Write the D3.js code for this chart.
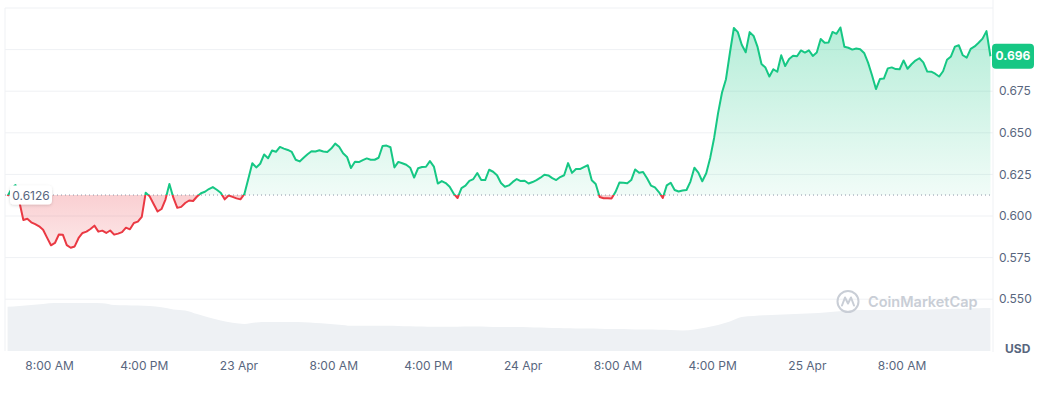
<!DOCTYPE html>
<html><head><meta charset="utf-8">
<script src="https://cdn.jsdelivr.net/npm/d3@7"></script>
<style>
html,body{margin:0;padding:0;background:#fff;}
svg{display:block;font-family:Inter,"Noto Sans",sans-serif;}
</style></head><body>
<svg id="chart" width="1039" height="394"></svg>
<script>
// ---- DATA ----
const priceStart = "2024-04-22T04:30:00";
const priceStepMinutes = 20;
const prices = [
0.6120,0.6162,0.6186,0.6084,0.5976,0.5983,0.5962,0.5951,0.5938,0.5917,
0.5870,0.5824,0.5838,0.5889,0.5888,0.5825,0.5809,0.5817,0.5868,0.5898,
0.5906,0.5922,0.5942,0.5906,0.5912,0.5898,0.5913,0.5888,0.5894,0.5903,
0.5930,0.5920,0.5958,0.5966,0.5995,0.6140,0.6118,0.6072,0.6027,0.6042,
0.6099,0.6192,0.6110,0.6049,0.6055,0.6078,0.6093,0.6090,0.6117,0.6137,
0.6146,0.6162,0.6174,0.6158,0.6140,0.6100,0.6123,0.6115,0.6106,0.6100,
0.6132,0.6224,0.6317,0.6292,0.6314,0.6370,0.6347,0.6394,0.6386,0.6415,
0.6405,0.6397,0.6385,0.6338,0.6328,0.6350,0.6371,0.6389,0.6388,0.6395,
0.6388,0.6385,0.6405,0.6435,0.6416,0.6377,0.6355,0.6288,0.6326,0.6324,
0.6336,0.6346,0.6338,0.6338,0.6350,0.6421,0.6423,0.6413,0.6292,0.6325,
0.6317,0.6308,0.6290,0.6231,0.6287,0.6294,0.6296,0.6330,0.6297,0.6195,
0.6210,0.6198,0.6176,0.6135,0.6108,0.6168,0.6182,0.6211,0.6222,0.6258,
0.6217,0.6216,0.6278,0.6266,0.6245,0.6198,0.6176,0.6184,0.6205,0.6222,
0.6210,0.6212,0.6195,0.6204,0.6216,0.6230,0.6248,0.6244,0.6228,0.6216,
0.6234,0.6245,0.6318,0.6259,0.6282,0.6282,0.6294,0.6305,0.6215,0.6192,
0.6114,0.6107,0.6107,0.6105,0.6144,0.6201,0.6200,0.6197,0.6216,0.6280,
0.6260,0.6264,0.6227,0.6183,0.6172,0.6144,0.6108,0.6184,0.6200,0.6156,
0.6147,0.6153,0.6156,0.6207,0.6290,0.6261,0.6209,0.6257,0.6349,0.6469,
0.6618,0.6742,0.6822,0.6981,0.7130,0.7105,0.7029,0.6984,0.7105,0.7082,
0.7016,0.6913,0.6892,0.6838,0.6882,0.6867,0.6966,0.6901,0.6944,0.6963,
0.6960,0.6995,0.6982,0.6996,0.6962,0.6982,0.7064,0.7041,0.7043,0.7106,
0.7095,0.7133,0.7017,0.7011,0.7000,0.7007,0.7002,0.6980,0.6922,0.6846,
0.6763,0.6823,0.6826,0.6887,0.6893,0.6883,0.6882,0.6935,0.6885,0.6912,
0.6934,0.6948,0.6923,0.6868,0.6867,0.6855,0.6838,0.6870,0.6939,0.6959,
0.7018,0.7026,0.6966,0.6952,0.7004,0.7019,0.7041,0.7066,0.7111,0.6960
];
const openPrice = 0.6126;

const volumeStart = "2024-04-22T04:30:00";
const volumeStepMinutes = 60;
const volumes = [
442,450,459,470,479,480,480,480,477,460,457,454,450,438,416,406,370,335,306,283,
271,286,290,290,290,288,280,273,263,253,253,253,252,250,247,244,242,242,243,244,
245,240,240,240,238,234,230,228,226,224,222,220,220,216,214,212,210,206,215,235,
260,295,340,350,358,363,368,373,378,385,395,405,410,410,410,410,410,410,415,420,
423,426,428,430
];

const gridValues = [0.550,0.575,0.600,0.625,0.650,0.675,0.700,0.725];
const yTickValues = [0.550,0.575,0.600,0.625,0.650,0.675];
const xTickTimes = ["2024-04-22T08:00","2024-04-22T16:00","2024-04-23T00:00","2024-04-23T08:00",
  "2024-04-23T16:00","2024-04-24T00:00","2024-04-24T08:00","2024-04-24T16:00",
  "2024-04-25T00:00","2024-04-25T08:00"];
const xTickLabels = ["8:00 AM","4:00 PM","23 Apr","8:00 AM","4:00 PM","24 Apr","8:00 AM","4:00 PM","25 Apr","8:00 AM"];
const domainStart = "2024-04-22T04:17";
const domainEnd = "2024-04-25T15:43";
const currency = "USD";
const brand = "CoinMarketCap";

// ---- BUILD ----
const GREEN = "#16c784", RED = "#ea3943", TXT = "#58667e", GRID = "#eff1f4";
const left = 5, right = 993;
const svg = d3.select("#chart");

const t0 = new Date(priceStart).getTime();
const priceData = prices.map((p, i) => ({t: new Date(t0 + i * priceStepMinutes * 60000), v: p}));
const v0 = new Date(volumeStart).getTime();
const volData = volumes.map((v, i) => ({t: new Date(v0 + i * volumeStepMinutes * 60000), v}));

const x = d3.scaleTime().domain([new Date(domainStart), new Date(domainEnd)]).range([left, right]);
const y = d3.scaleLinear().domain([0.55, 0.725]).range([299.2, 8]);
const yVol = d3.scaleLinear().domain([0, 500]).range([351, 301]);
const yOpen = y(openPrice);

const defs = svg.append("defs");
const gg = defs.append("linearGradient").attr("id","gGreen").attr("gradientUnits","userSpaceOnUse")
  .attr("x1",0).attr("x2",0).attr("y1",y(0.715)).attr("y2",yOpen);
gg.append("stop").attr("offset",0).attr("stop-color",GREEN).attr("stop-opacity",0.32);
gg.append("stop").attr("offset",1).attr("stop-color",GREEN).attr("stop-opacity",0.06);
const gr = defs.append("linearGradient").attr("id","gRed").attr("gradientUnits","userSpaceOnUse")
  .attr("x1",0).attr("x2",0).attr("y1",yOpen).attr("y2",y(0.58));
gr.append("stop").attr("offset",0).attr("stop-color",RED).attr("stop-opacity",0.24);
gr.append("stop").attr("offset",1).attr("stop-color",RED).attr("stop-opacity",0.12);
defs.append("clipPath").attr("id","cAbove").append("rect")
  .attr("x",0).attr("y",0).attr("width",1039).attr("height",yOpen);
defs.append("clipPath").attr("id","cBelow").append("rect")
  .attr("x",0).attr("y",yOpen).attr("width",1039).attr("height",394-yOpen);
const sh = defs.append("filter").attr("id","shadow").attr("x","-30%").attr("y","-50%").attr("width","160%").attr("height","200%");
sh.append("feDropShadow").attr("dx",0).attr("dy",1).attr("stdDeviation",1.5)
  .attr("flood-color","#000").attr("flood-opacity",0.15);

// grid
svg.append("g").selectAll("line").data(gridValues).join("line")
  .attr("x1",left).attr("x2",right).attr("y1",d=>y(d)).attr("y2",d=>y(d))
  .attr("stroke",GRID).attr("stroke-width",1);
svg.append("line").attr("x1",left).attr("x2",left).attr("y1",y(0.725)).attr("y2",351).attr("stroke",GRID);
svg.append("line").attr("x1",right).attr("x2",right).attr("y1",0).attr("y2",352).attr("stroke",GRID);

// volume
svg.append("path").datum(volData)
  .attr("d", d3.area().x(d=>x(d.t)).y0(yVol(0)).y1(d=>yVol(d.v)).curve(d3.curveMonotoneX))
  .attr("fill","#eef1f4");

// watermark
const wm = svg.append("g").attr("transform","translate(848,301.5)");
wm.append("circle").attr("r",10.5).attr("fill","none").attr("stroke","#c9ced6").attr("stroke-width",2);
wm.append("path").attr("d","M-6,4 L-3,-4 L0,2 L3,-4 L6,4").attr("fill","none")
  .attr("stroke","#c9ced6").attr("stroke-width",2).attr("stroke-linejoin","round").attr("stroke-linecap","round");
svg.append("text").attr("x",868).attr("y",306.5).text(brand)
  .attr("font-size",14.5).attr("font-weight",600).attr("fill","#c9ced6");

// fills
const area = d3.area().x(d=>x(d.t)).y0(yOpen).y1(d=>y(d.v));
svg.append("path").datum(priceData).attr("d",area).attr("fill","url(#gGreen)").attr("clip-path","url(#cAbove)");
svg.append("path").datum(priceData).attr("d",area).attr("fill","url(#gRed)").attr("clip-path","url(#cBelow)");

// dotted baseline
svg.append("line").attr("x1",left).attr("x2",right).attr("y1",yOpen).attr("y2",yOpen)
  .attr("stroke","#8e97a8").attr("stroke-width",1).attr("stroke-dasharray","1 3");

// lines
const line = d3.line().x(d=>x(d.t)).y(d=>y(d.v));
svg.append("path").datum(priceData).attr("d",line).attr("fill","none").attr("stroke",GREEN)
  .attr("stroke-width",2).attr("stroke-linejoin","round").attr("clip-path","url(#cAbove)");
svg.append("path").datum(priceData).attr("d",line).attr("fill","none").attr("stroke",RED)
  .attr("stroke-width",2).attr("stroke-linejoin","round").attr("clip-path","url(#cBelow)");

// y labels
svg.append("g").selectAll("text").data(yTickValues).join("text")
  .attr("x",999).attr("y",d=>y(d)).attr("dy","0.35em").text(d=>d3.format(".3f")(d))
  .attr("font-size",12).attr("fill",TXT);

// x labels
const xAxis = d3.axisBottom(x).tickValues(xTickTimes.map(s=>new Date(s)))
  .tickFormat((d,i)=>xTickLabels[i]).tickSize(0);
const xg = svg.append("g").attr("transform","translate(0,358)").call(xAxis);
xg.select(".domain").remove();
xg.selectAll("text").attr("font-size",12).attr("fill",TXT).attr("font-family","Inter,'Noto Sans',sans-serif");

svg.append("text").attr("x",1005).attr("y",349).attr("dy","0.35em").text(currency)
  .attr("font-size",12).attr("font-weight",700).attr("fill",TXT);

// open label
const ol = svg.append("g");
ol.append("rect").attr("x",10).attr("y",yOpen-9.5).attr("width",42).attr("height",19).attr("rx",4)
  .attr("fill","#fff").attr("filter","url(#shadow)");
ol.append("text").attr("x",31).attr("y",yOpen+1).attr("dy","0.35em").attr("text-anchor","middle")
  .text(openPrice.toFixed(4)).attr("font-size",12).attr("fill",TXT);

// last price badge
const last = prices[prices.length-1];
const bg = svg.append("g");
bg.append("rect").attr("x",992).attr("y",y(last)-12.5).attr("width",42).attr("height",25).attr("rx",4).attr("fill",GREEN);
bg.append("text").attr("x",1013).attr("y",y(last)).attr("dy","0.35em").attr("text-anchor","middle")
  .text(d3.format(".3f")(last)).attr("font-size",12).attr("font-weight",700).attr("fill","#fff");
</script>
</body></html>
